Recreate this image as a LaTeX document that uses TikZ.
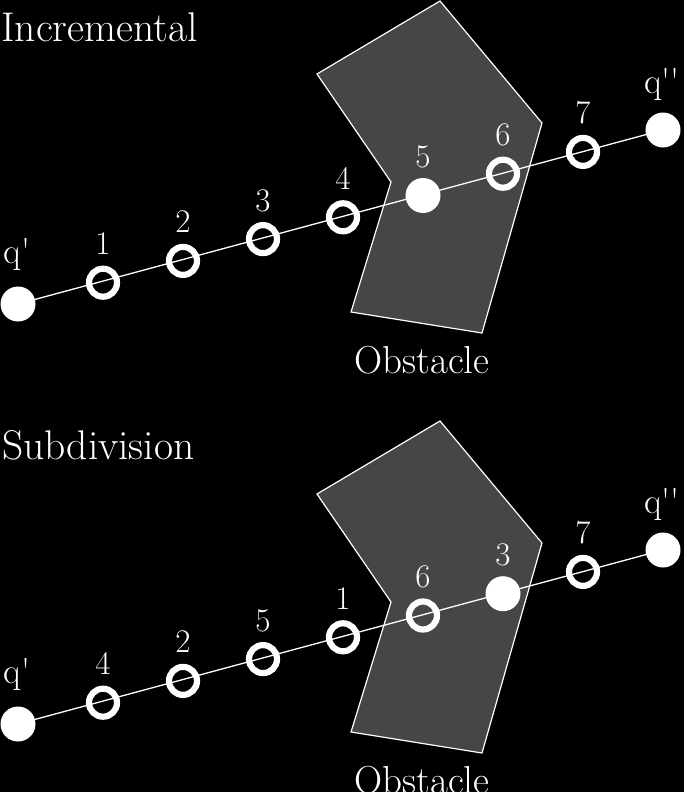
\documentclass[tikz,border=0pt]{standalone}
\usepackage{textcomp}
\definecolor{obgray}{RGB}{70,70,70}
\tikzset{
  dot/.style={circle, fill=white, minimum size=35pt, inner sep=0pt},
  ring/.style={circle, draw=white, line width=6.2pt, minimum size=28pt, inner sep=0pt},
  lbl/.style={text=white, font=\fontsize{33}{38}\selectfont, inner sep=0pt, anchor=base},
  qlbl/.style={text=white, font=\fontsize{36}{40}\selectfont, inner sep=0pt, anchor=base},
  ttl/.style={text=white, font=\fontsize{41.5}{48}\selectfont, inner sep=0pt},
  obl/.style={text=white, font=\fontsize{39}{46}\selectfont, inner sep=0pt, anchor=base},
  obst/.style={fill=obgray, draw=white, line width=1.2pt, line join=miter},
  seg/.style={draw=white, line width=1.3pt}
}
\begin{document}
\begin{tikzpicture}[x=1pt,y=-1pt]
\fill[black] (0,0) rectangle (684,792);
\useasboundingbox (0,0) rectangle (684,792);
% ---------- Incremental ----------
\begin{scope}
\draw[obst] (440,1) -- (542,123) -- (482,333) -- (351,312) -- (391,182) -- (317,74) -- cycle;
\node[ttl, anchor=base west] (t1) at (1,42) {Incremental};
\node[obl] (o1) at (422,373) {Obstacle};
\node[dot] (a0) at (18,304) {};
\node[dot] (a8) at (663,130) {};
\foreach \i/\k/\s in {1/1/ring,2/2/ring,3/3/ring,4/4/ring,5/5/dot,6/6/ring,7/7/ring}{
  \node[\s] (a\i) at ({23+\i*80},{304.5-\i*21.8}) {};
  \node[lbl] (la\i) at ({23+\i*80},{304.5-\i*21.8-28}) {\k};
}
\node[qlbl] (la0) at (17,263) {q\textquotesingle};
\node[qlbl] (la8) at (662,93) {q\textquotesingle\textquotesingle};
\draw[seg] (a0) -- (a8);
\end{scope}
% ---------- Subdivision ----------
\begin{scope}[shift={(0,420)}]
\draw[obst] (440,1) -- (542,123) -- (482,333) -- (351,312) -- (391,182) -- (317,74) -- cycle;
\node[ttl, anchor=base west] (t2) at (2,39) {Subdivision};
\node[obl] (o2) at (422,373) {Obstacle};
\node[dot] (b0) at (18,304) {};
\node[dot] (b8) at (663,130) {};
\foreach \i/\k/\s in {1/4/ring,2/2/ring,3/5/ring,4/1/ring,5/6/ring,6/3/dot,7/7/ring}{
  \node[\s] (b\i) at ({23+\i*80},{304.5-\i*21.8}) {};
  \node[lbl] (lb\i) at ({23+\i*80},{304.5-\i*21.8-28}) {\k};
}
\node[qlbl] (lb0) at (17,263) {q\textquotesingle};
\node[qlbl] (lb8) at (662,93) {q\textquotesingle\textquotesingle};
\draw[seg] (b0) -- (b8);
\end{scope}
\end{tikzpicture}
\end{document}
